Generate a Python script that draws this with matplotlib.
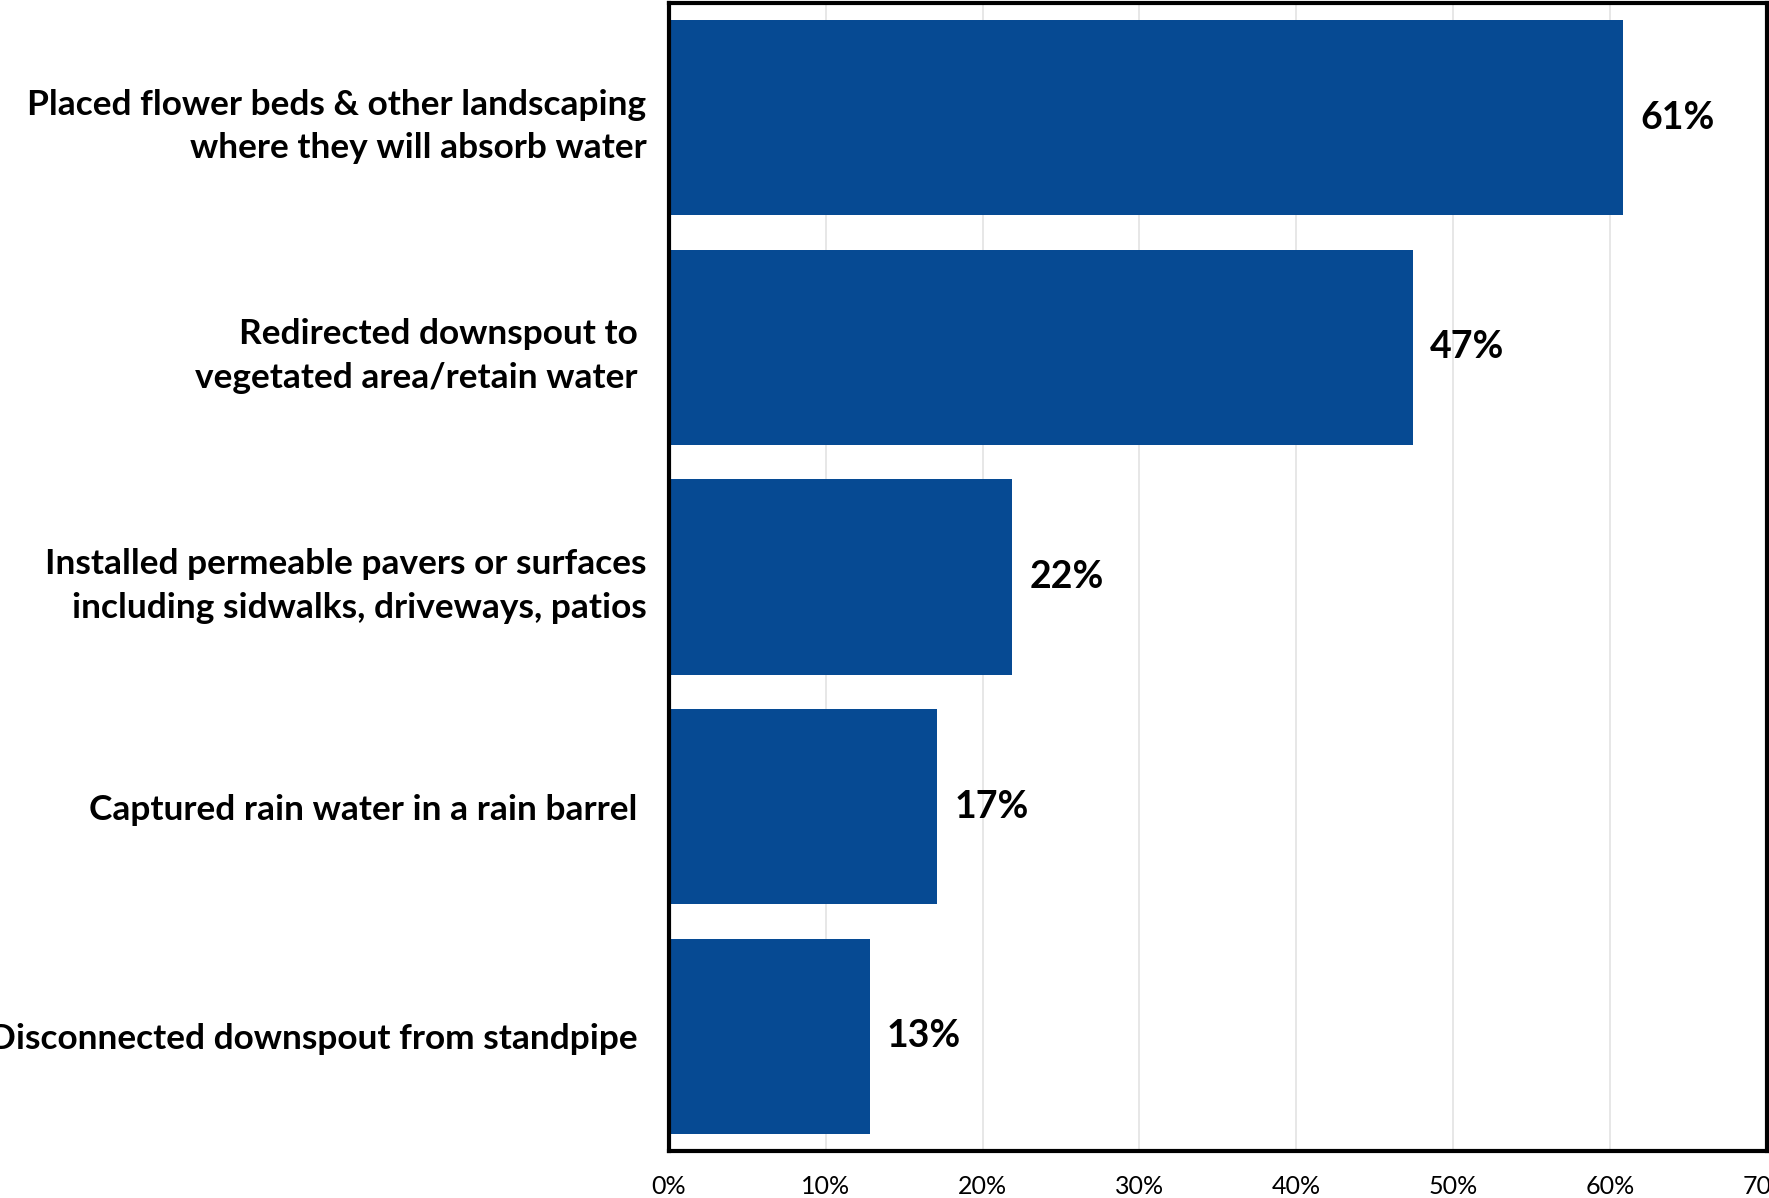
import matplotlib.pyplot as plt
from matplotlib.ticker import FuncFormatter

# survey answers, top to bottom
actions = ['Placed flower beds & other landscaping\nwhere they will absorb water',
           'Redirected downspout to \nvegetated area/retain water ',
           'Installed permeable pavers or surfaces\nincluding sidwalks, driveways, patios',
           'Captured rain water in a rain barrel ',
           'Disconnected downspout from standpipe ']
shares = [60.8, 47.4, 21.9, 17.1, 12.8]
share_labels = ['61%', '47%', '22%', '17%', '13%']

plt.rcParams['font.family'] = ['Lato', 'DejaVu Sans']

fig = plt.figure(figsize=(17.69, 11.98), dpi=100)
ax = fig.add_axes([0.378, 0.0392, 0.621, 0.9583])

pos = list(range(len(actions)))
ax.barh(pos, shares, height=0.85, color='#064A93', zorder=2)
for p, v, t in zip(pos, shares, share_labels):
    ax.text(v + 1.1, p, t, va='center', ha='left', fontsize=27, fontweight='bold')

ax.set_ylim(len(actions) - 0.5, -0.5)
ax.set_xlim(0, 70)
ax.set_xticks(range(0, 71, 10))
ax.xaxis.set_major_formatter(FuncFormatter(lambda x, _: '%d%%' % x))
ax.set_yticks(pos)
ax.set_yticklabels(actions, fontsize=25.4, fontweight='bold', linespacing=1.45)
ax.tick_params(axis='both', length=0)
ax.tick_params(axis='x', labelsize=18, pad=17)
ax.tick_params(axis='y', pad=16)
ax.grid(axis='x', color='#e3e3e3', linewidth=1.2, zorder=0)
for s in ax.spines.values():
    s.set_linewidth(3)
    s.set_color('black')

fig.savefig('out.png', dpi=100)
